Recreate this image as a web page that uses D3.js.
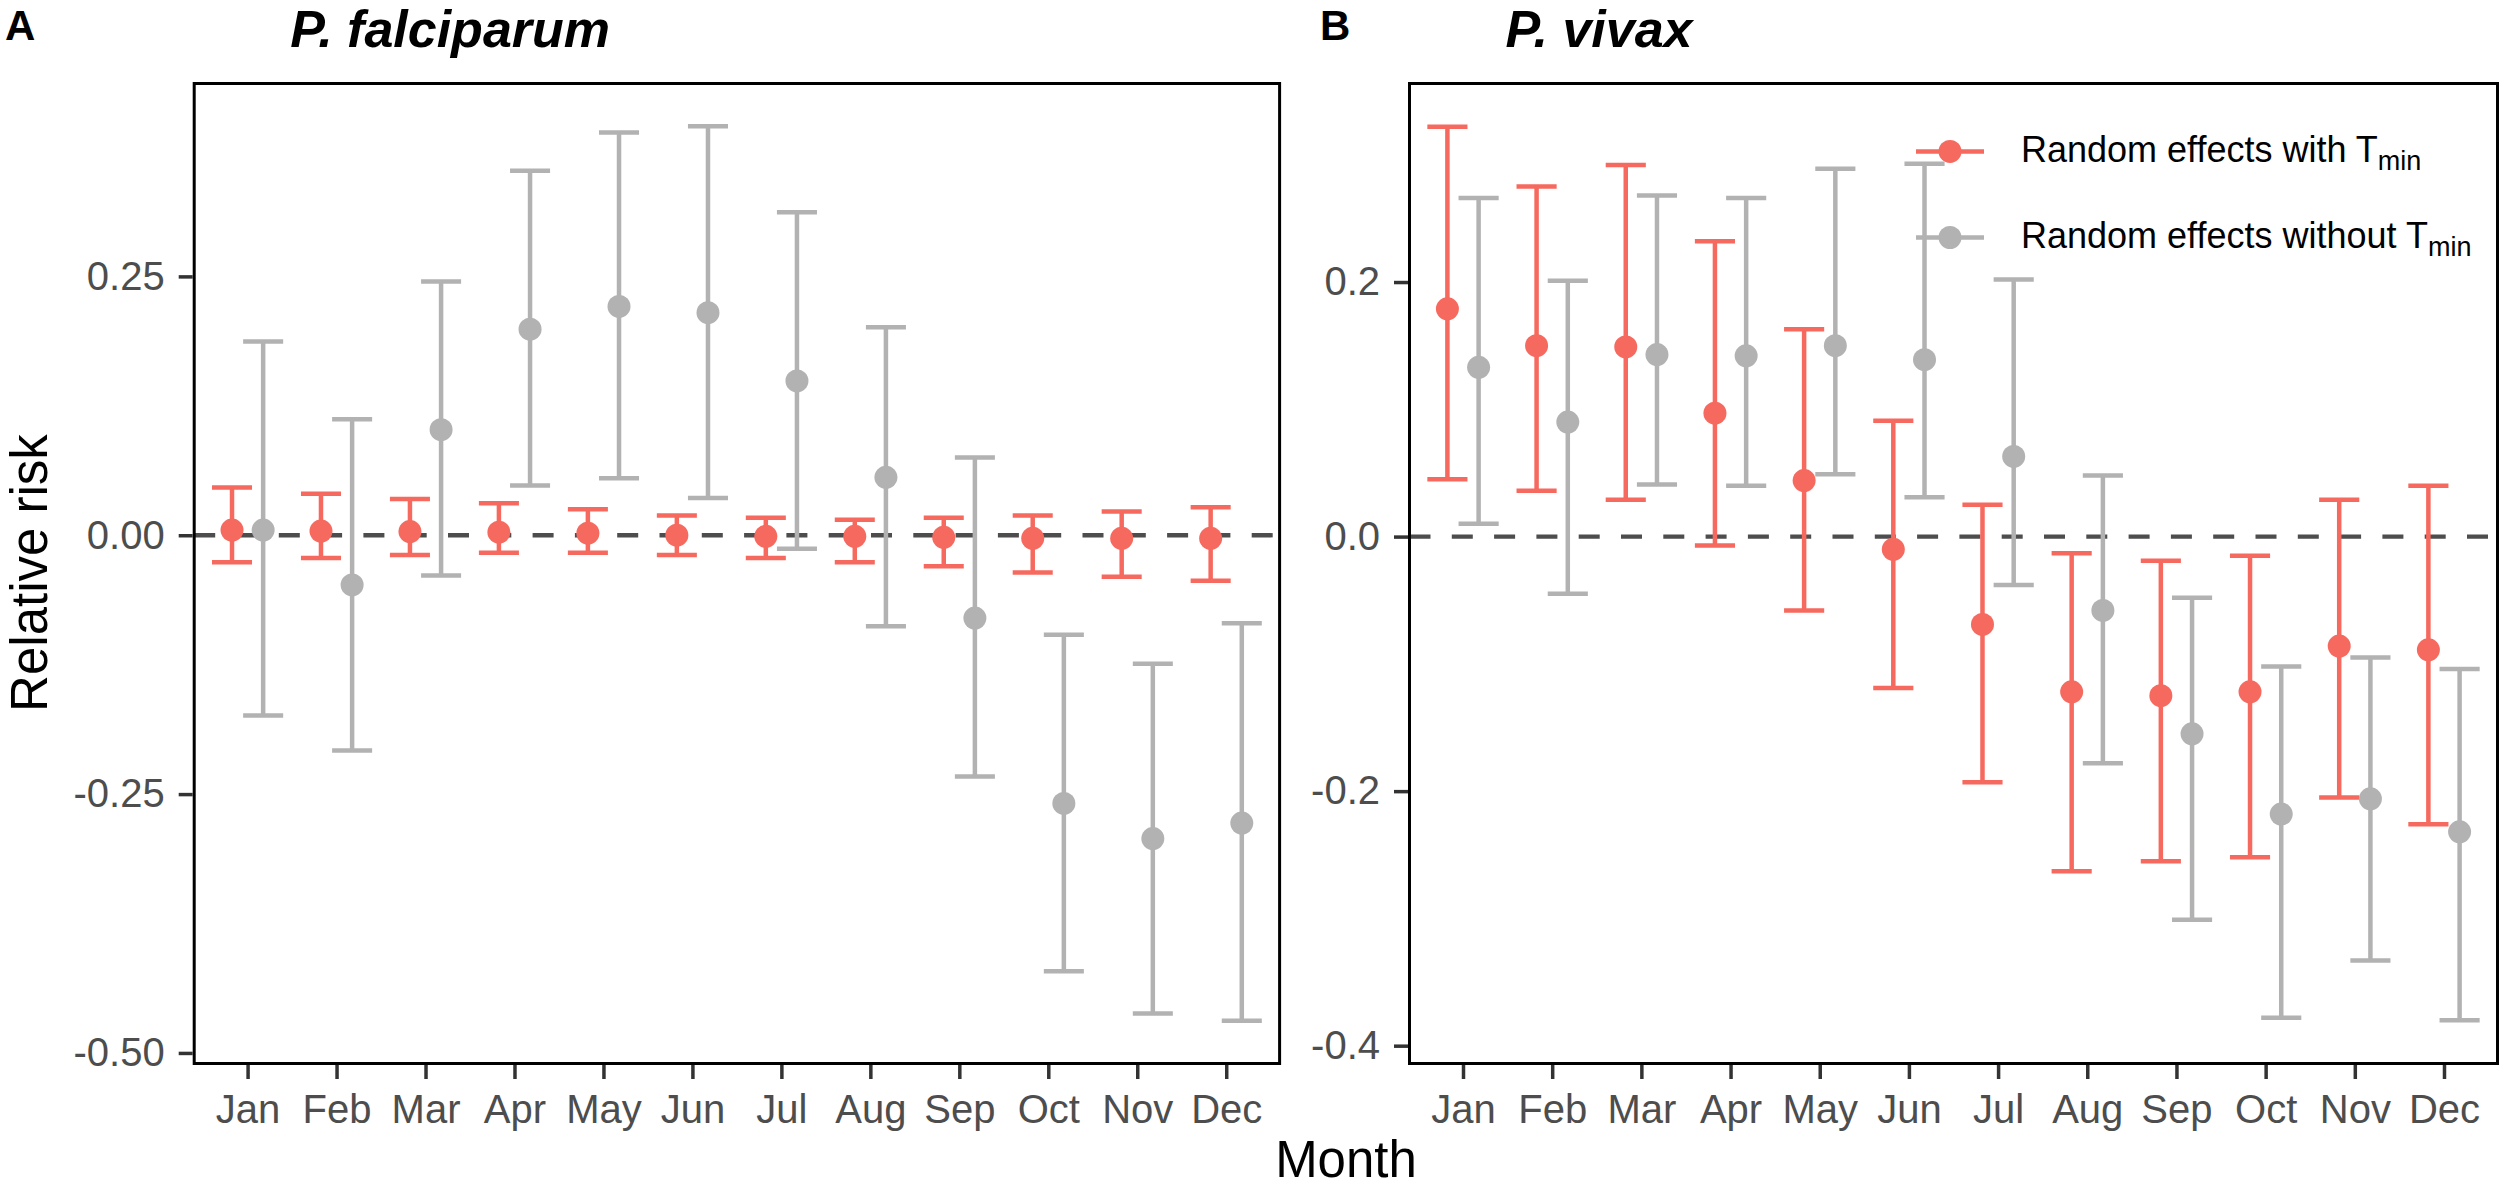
<!DOCTYPE html>
<html>
<head>
<meta charset="utf-8">
<script src="https://cdn.jsdelivr.net/npm/d3@7"></script>
<style>
  body { margin: 0; background: #fff; }
  text { font-family: "Liberation Sans", Arial, sans-serif; }
</style>
</head>
<body>
<div class="visContainer"></div>
<script>
// Data.
const months = ['Jan', 'Feb', 'Mar', 'Apr', 'May', 'Jun', 'Jul', 'Aug', 'Sep', 'Oct', 'Nov', 'Dec'];
const seriesNames = ['Random effects with T', 'Random effects without T'];

// P. falciparum, random effects with Tmin.
const pfWithEst  = [0.005, 0.004, 0.0035, 0.003, 0.002, 0.000, -0.001, -0.001, -0.002, -0.003, -0.003, -0.003];
const pfWithLow  = [-0.026, -0.022, -0.019, -0.017, -0.017, -0.019, -0.022, -0.026, -0.030, -0.036, -0.040, -0.044];
const pfWithHigh = [0.046, 0.040, 0.035, 0.031, 0.025, 0.019, 0.017, 0.015, 0.017, 0.019, 0.023, 0.027];
// P. falciparum, random effects without Tmin.
const pfWithoutEst  = [0.005, -0.048, 0.102, 0.199, 0.221, 0.215, 0.149, 0.056, -0.080, -0.259, -0.293, -0.278];
const pfWithoutLow  = [-0.174, -0.208, -0.039, 0.048, 0.055, 0.036, -0.013, -0.088, -0.233, -0.421, -0.462, -0.469];
const pfWithoutHigh = [0.187, 0.112, 0.245, 0.352, 0.389, 0.395, 0.312, 0.201, 0.075, -0.096, -0.124, -0.085];

// P. vivax, random effects with Tmin.
const pvWithEst  = [0.179, 0.150, 0.149, 0.097, 0.044, -0.010, -0.069, -0.122, -0.125, -0.122, -0.086, -0.089];
const pvWithLow  = [0.045, 0.036, 0.029, -0.007, -0.058, -0.119, -0.193, -0.263, -0.255, -0.252, -0.205, -0.226];
const pvWithHigh = [0.322, 0.275, 0.292, 0.232, 0.163, 0.091, 0.025, -0.013, -0.019, -0.015, 0.029, 0.040];
// P. vivax, random effects without Tmin.
const pvWithoutEst  = [0.133, 0.090, 0.143, 0.142, 0.150, 0.139, 0.063, -0.058, -0.155, -0.218, -0.206, -0.232];
const pvWithoutLow  = [0.010, -0.045, 0.041, 0.040, 0.049, 0.031, -0.038, -0.178, -0.301, -0.378, -0.333, -0.380];
const pvWithoutHigh = [0.266, 0.201, 0.268, 0.266, 0.289, 0.293, 0.202, 0.048, -0.048, -0.102, -0.095, -0.104];

// Axis ticks.
const pfTicks = [0.25, 0, -0.25, -0.5];
const pfTickLabels = ['0.25', '0.00', '-0.25', '-0.50'];
const pvTicks = [0.2, 0, -0.2, -0.4];
const pvTickLabels = ['0.2', '0.0', '-0.2', '-0.4'];

// SVG constants.
const width = 2500;
const height = 1188;
const plotTop = 83.5;
const plotBottom = 1063.5;
const red = '#f6695e';
const grey = '#b2b2b2';
const tickColor = '#4d4d4d';

const svg = d3.select('.visContainer')
              .append('svg')
              .attr('width', width)
              .attr('height', height);

function buildRows(est, low, high) {
    return months.map((m, i) => ({ month: m, est: est[i], low: low[i], high: high[i] }));
}

function drawPanel(opts) {
    const xScale = d3.scalePoint()
                     .domain(months)
                     .range([opts.left, opts.right])
                     .padding(0.6);
    const yScale = d3.scaleLinear()
                     .domain(opts.yDomain)
                     .range([plotBottom, plotTop]);
    const step = xScale.step();
    const dodge = 0.175 * step;
    const capHalf = 0.225 * step;

    const g = svg.append('g');

    // Reference line at zero.
    g.append('line')
     .attr('x1', opts.left)
     .attr('x2', opts.right)
     .attr('y1', yScale(0))
     .attr('y2', yScale(0))
     .attr('stroke', '#4d4d4d')
     .attr('stroke-width', 4.3)
     .attr('stroke-dasharray', '21,21.3');

    // Error bars for each group.
    opts.groups.forEach((grp) => {
        const off = grp.side * dodge;
        const bars = g.append('g')
                      .selectAll('g')
                      .data(grp.rows)
                      .enter()
                      .append('g')
                      .attr('stroke', grp.color)
                      .attr('stroke-width', 4.5);
        bars.append('line')
            .attr('x1', (d) => xScale(d.month) + off)
            .attr('x2', (d) => xScale(d.month) + off)
            .attr('y1', (d) => yScale(d.low))
            .attr('y2', (d) => yScale(d.high));
        bars.append('line')
            .attr('x1', (d) => xScale(d.month) + off - capHalf)
            .attr('x2', (d) => xScale(d.month) + off + capHalf)
            .attr('y1', (d) => yScale(d.high))
            .attr('y2', (d) => yScale(d.high));
        bars.append('line')
            .attr('x1', (d) => xScale(d.month) + off - capHalf)
            .attr('x2', (d) => xScale(d.month) + off + capHalf)
            .attr('y1', (d) => yScale(d.low))
            .attr('y2', (d) => yScale(d.low));
    });
    // Points.
    opts.groups.forEach((grp) => {
        const off = grp.side * dodge;
        g.append('g')
         .selectAll('circle')
         .data(grp.rows)
         .enter()
         .append('circle')
         .attr('cx', (d) => xScale(d.month) + off)
         .attr('cy', (d) => yScale(d.est))
         .attr('r', 11.5)
         .attr('fill', grp.color);
    });

    // Panel border.
    g.append('rect')
     .attr('x', opts.left)
     .attr('y', plotTop)
     .attr('width', opts.right - opts.left)
     .attr('height', plotBottom - plotTop)
     .attr('fill', 'none')
     .attr('stroke', '#000')
     .attr('stroke-width', 3);

    // Axes.
    const xAxis = d3.axisBottom(xScale).tickSize(14).tickPadding(15.5);
    const yAxis = d3.axisLeft(yScale)
                    .tickValues(opts.ticks)
                    .tickFormat((d, i) => opts.tickLabels[i])
                    .tickSize(14)
                    .tickPadding(14);

    const xg = g.append('g')
                .attr('transform', 'translate(0,' + (plotBottom + 1.5) + ')')
                .call(xAxis);
    const yg = g.append('g')
                .attr('transform', 'translate(' + (opts.left - 1.5) + ',0)')
                .call(yAxis);
    [xg, yg].forEach((ax) => {
        ax.select('.domain').remove();
        ax.selectAll('line').attr('stroke', '#333').attr('stroke-width', 3.5);
        ax.selectAll('text')
          .attr('fill', tickColor)
          .style('font-size', '40px')
          .style('font-family', '"Liberation Sans", Arial, sans-serif');
    });

    // Panel tag and title.
    svg.append('text')
       .attr('x', opts.tagX)
       .attr('y', 40)
       .attr('font-size', '42px')
       .attr('font-weight', 'bold')
       .text(opts.tag);
    svg.append('text')
       .attr('x', opts.left + 96)
       .attr('y', 47)
       .attr('font-size', '52px')
       .attr('font-weight', 'bold')
       .attr('font-style', 'italic')
       .text(opts.title);
}

drawPanel({
    left: 194.2, right: 1279.6,
    yDomain: [-0.5102, 0.4363],
    ticks: pfTicks, tickLabels: pfTickLabels,
    tag: 'A', tagX: 5, title: 'P. falciparum',
    groups: [
        { rows: buildRows(pfWithEst, pfWithLow, pfWithHigh), color: red, side: -1 },
        { rows: buildRows(pfWithoutEst, pfWithoutLow, pfWithoutHigh), color: grey, side: 1 }
    ]
});

drawPanel({
    left: 1409.5, right: 2497.5,
    yDomain: [-0.414, 0.356],
    ticks: pvTicks, tickLabels: pvTickLabels,
    tag: 'B', tagX: 1320, title: 'P. vivax',
    groups: [
        { rows: buildRows(pvWithEst, pvWithLow, pvWithHigh), color: red, side: -1 },
        { rows: buildRows(pvWithoutEst, pvWithoutLow, pvWithoutHigh), color: grey, side: 1 }
    ]
});

// Legend (no background, sits over panel B).
const legendColors = [red, grey];
const legend = svg.append('g')
                  .selectAll('g')
                  .data(seriesNames)
                  .enter()
                  .append('g')
                  .attr('transform', (d, i) => 'translate(1916,' + (151.4 + i * 86.1) + ')');
legend.append('line')
      .attr('x1', 0)
      .attr('x2', 68)
      .attr('stroke', (d, i) => legendColors[i])
      .attr('stroke-width', 4.5);
legend.append('circle')
      .attr('cx', 34)
      .attr('r', 11.5)
      .attr('fill', (d, i) => legendColors[i]);
const legendText = legend.append('text')
                         .attr('x', 105)
                         .attr('y', 10.5)
                         .attr('font-size', '36px')
                         .attr('fill', '#000')
                         .text((d) => d);
legendText.append('tspan')
          .attr('dy', 8)
          .attr('font-size', '27px')
          .text('min');

// Axis titles.
svg.append('text')
   .attr('x', 1346)
   .attr('y', 1177)
   .attr('text-anchor', 'middle')
   .attr('font-size', '51px')
   .text('Month');

svg.append('text')
   .attr('transform', 'translate(47,573) rotate(-90)')
   .attr('text-anchor', 'middle')
   .attr('font-size', '51px')
   .text('Relative risk');
</script>
</body>
</html>
